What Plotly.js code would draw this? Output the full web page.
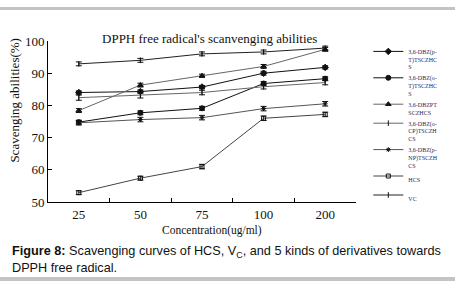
<!DOCTYPE html>
<html>
<head>
<meta charset="utf-8">
<script src="https://cdn.plot.ly/plotly-3.0.1.min.js"></script>
<style>
html,body{margin:0;padding:0;background:#fff;}
#wrap{position:relative;width:455px;height:281px;}
#chart{width:455px;height:281px;}
.bar{position:absolute;left:0;width:455px;background:#c4c4c4;}
</style>
</head>
<body>
<div id="wrap">
<div id="chart"></div>
<div class="bar" style="top:7px;height:3px;"></div>
<div class="bar" style="top:277px;height:4px;"></div>
</div>
<script>
// Data
var concentrations = ['25', '50', '75', '100', '200'];
var seriesNames = [
  '3,6-DBZ(p-<br>T)TSCZHC<br>S',
  '3,6-DBZ(o-<br>T)TSCZHC<br>S',
  '3,6-DBZPT<br>SCZHCS',
  '3,6-DBZ(o-<br>CP)TSCZH<br>CS',
  '3,6-DBZ(p-<br>NP)TSCZH<br>CS',
  'HCS',
  'VC'
];
var pT   = [84.0, 84.3, 85.7, 90.0, 91.8];
var oT   = [74.8, 77.7, 79.1, 86.8, 88.3];
var PT   = [78.4, 86.3, 89.2, 92.1, 97.4];
var oCP  = [82.4, 83.1, 84.0, 85.8, 87.1];
var pNP  = [74.6, 75.6, 76.2, 79.0, 80.5];
var HCS  = [52.9, 57.4, 61.0, 76.0, 77.2];
var VC   = [92.9, 94.0, 96.0, 96.6, 97.8];
var errPT  = [0.5, 0.5, 0.5, 0.6, 0.5];
var errOT  = [0.6, 0.6, 0.6, 0.6, 0.6];
var errPTS = [0.6, 0.6, 0.5, 0.6, 0.6];
var errOCP = [0.8, 0.8, 0.7, 0.7, 0.7];
var errPNP = [0.7, 0.7, 0.7, 0.7, 0.7];
var errHCS = [0.6, 0.6, 0.7, 0.7, 0.7];
var errVC  = [0.6, 0.6, 0.6, 0.6, 0.6];

var allY = [pT, oT, PT, oCP, pNP, HCS, VC];
var allErr = [errPT, errOT, errPTS, errOCP, errPNP, errHCS, errVC];
var symbols = ['diamond', 'circle', 'triangle-up', 'line-ns-open', 'asterisk-open', 'square-open', 'line-ns-open'];
var sizes = [5, 5, 5, 4, 4, 4, 4];
var lineColors = ['#111', '#111', '#666', '#666', '#555', '#444', '#222'];

var traces = allY.map(function (ys, i) {
  return {
    x: concentrations,
    y: ys,
    name: seriesNames[i],
    type: 'scatter',
    mode: 'lines+markers',
    line: {color: lineColors[i], width: 1},
    marker: {symbol: symbols[i], size: sizes[i], color: '#111', line: {color: '#111', width: 1}},
    error_y: {type: 'data', array: allErr[i], visible: true, color: '#111', thickness: 1, width: 3}
  };
});

var serif = 'Liberation Serif, Times New Roman, serif';
var layout = {
  width: 455, height: 281,
  margin: {l: 48, r: 72, t: 41, b: 79},
  paper_bgcolor: '#fff', plot_bgcolor: '#fff',
  font: {family: serif, color: '#111', size: 12},
  title: {text: "DPPH free radical's scanvenging abilities", font: {family: serif, size: 13, color: '#111'},
          xref: 'paper', x: 0.525, xanchor: 'center', yref: 'container', y: 0.862, yanchor: 'middle'},
  xaxis: {type: 'category', range: [-0.5, 4.5], showline: true, linecolor: '#000', linewidth: 1,
          ticks: 'inside', tickson: 'boundaries', ticklen: 4, tickcolor: '#000', showgrid: false, zeroline: false,
          tickfont: {family: serif, size: 13, color: '#111'}},
  yaxis: {range: [50, 100], dtick: 10, showline: true, linecolor: '#000', linewidth: 1,
          ticks: 'inside', ticklen: 4, tickcolor: '#000', showgrid: false, zeroline: false,
          tickfont: {family: serif, size: 13, color: '#111'}},
  showlegend: true,
  legend: {x: 1.04, xanchor: 'left', y: 1.0, yanchor: 'top', valign: 'top', itemwidth: 30,
           font: {family: serif, size: 6, color: '#1f1f5f'}, bgcolor: 'rgba(0,0,0,0)', tracegroupgap: 0},
  annotations: [
    {text: 'Scavenging abilities(%)', xref: 'paper', yref: 'paper', x: -0.107, y: 0.63, textangle: -90,
     showarrow: false, font: {family: serif, size: 13, color: '#111'}, xanchor: 'center', yanchor: 'middle'},
    {text: 'Concentration(ug/ml)', xref: 'paper', yref: 'paper', x: 0.531, y: -0.174,
     showarrow: false, font: {family: serif, size: 11.5, color: '#111'}, xanchor: 'center', yanchor: 'middle'},
    {text: '<b>Figure 8:</b> Scavenging curves of HCS, V<sub>C</sub>, and 5 kinds of derivatives towards<br>DPPH free radical.',
     xref: 'paper', yref: 'paper', x: -0.122, y: -0.25, xanchor: 'left', yanchor: 'top', align: 'left',
     showarrow: false, font: {family: 'Liberation Sans, Arial, sans-serif', size: 12.7, color: '#111'}}
  ]
};

Plotly.newPlot('chart', traces, layout, {displayModeBar: false, staticPlot: true});
</script>
</body>
</html>
